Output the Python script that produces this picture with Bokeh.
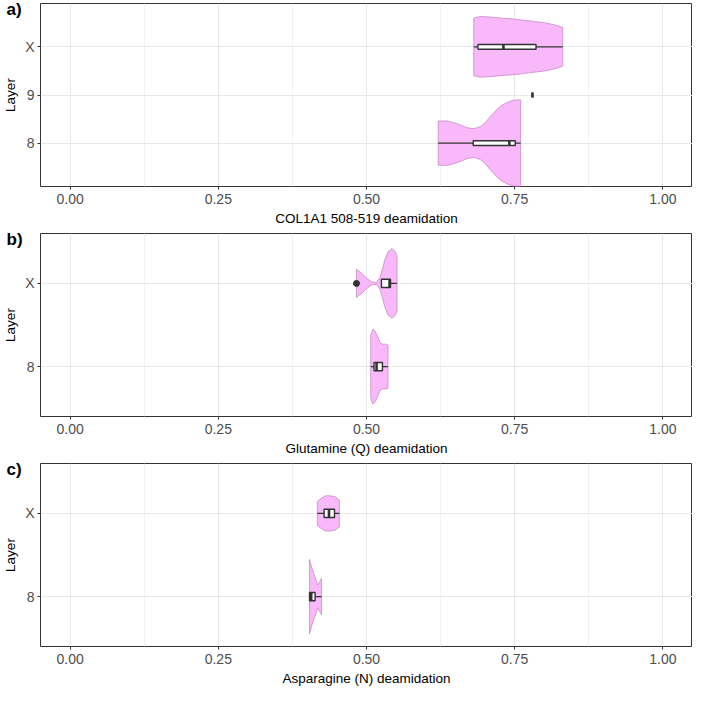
import numpy as np
from bokeh.plotting import figure
from bokeh.layouts import column
from bokeh.models import FixedTicker, NumeralTickFormatter, Range1d
from bokeh.embed import file_html
from bokeh.resources import INLINE

# ---------------- data ----------------
# Panel a: COL1A1 508-519 deamidation
a_layers = ["8", "9", "X"]
a_v8_vals = [0.621, 0.637, 0.654, 0.670, 0.681, 0.692, 0.700, 0.708, 0.717, 0.725, 0.736, 0.747, 0.760]
a_v8_half = [0.46, 0.46, 0.40, 0.32, 0.30, 0.34, 0.42, 0.54, 0.66, 0.76, 0.84, 0.89, 0.90]
a_vX_vals = [0.681, 0.692, 0.708, 0.725, 0.747, 0.774, 0.801, 0.823, 0.831]
a_vX_half = [0.60, 0.63, 0.62, 0.60, 0.58, 0.54, 0.50, 0.44, 0.40]
a_box_layer = ["8", "9", "X"]
a_box_lo = [0.621, 0.780, 0.681]
a_box_q1 = [0.680, 0.780, 0.688]
a_box_med = [0.741, 0.780, 0.731]
a_box_q3 = [0.751, 0.780, 0.786]
a_box_hi = [0.760, 0.780, 0.831]

# Panel b: Glutamine (Q) deamidation
b_layers = ["8", "X"]
b_v8_vals = [0.5072, 0.5105, 0.5142, 0.5182, 0.5225, 0.5269, 0.5324, 0.5362]
b_v8_half = [0.38, 0.45, 0.43, 0.37, 0.29, 0.27, 0.27, 0.26]
b_vX_vals = [0.4831, 0.4925, 0.5007, 0.5089, 0.5170, 0.5225, 0.5269, 0.5307, 0.5362, 0.5433, 0.5487, 0.5515]
b_vX_half = [0.169, 0.116, 0.058, 0.017, 0.012, 0.07, 0.17, 0.28, 0.38, 0.42, 0.38, 0.33]
b_box_layer = ["8", "X"]
b_box_lo = [0.5072, 0.5252]
b_box_q1 = [0.5127, 0.5252]
b_box_med = [0.5170, 0.5389]
b_box_q3 = [0.5269, 0.5405]
b_box_hi = [0.5362, 0.5515]
b_out_layer = ["X"]
b_out_val = [0.4831]

# Panel c: Asparagine (N) deamidation
c_layers = ["8", "X"]
c_v8_vals = [0.4039, 0.4077, 0.4133, 0.4176, 0.4214, 0.4241]
c_v8_half = [0.448, 0.345, 0.230, 0.138, 0.184, 0.218]
c_vX_vals = [0.4171, 0.4231, 0.4297, 0.4379, 0.4471, 0.4542]
c_vX_half = [0.144, 0.178, 0.210, 0.213, 0.201, 0.161]
c_box_layer = ["8", "X"]
c_box_lo = [0.4039, 0.4171]
c_box_q1 = [0.4039, 0.4285]
c_box_med = [0.4067, 0.4367]
c_box_q3 = [0.4133, 0.4460]
c_box_hi = [0.4241, 0.4542]

x_ticks = [0.0, 0.25, 0.5, 0.75, 1.0]
x_minor = [0.125, 0.375, 0.625, 0.875]

# ---------------- style ----------------
FONT = "Liberation Sans"
VIOLIN_FILL = "#F9B8F9"
VIOLIN_LINE = "#C88CC8"
DARK = "#333333"
GRID = "#E8E8E8"
GRID_MINOR = "#F1F1F1"
BOX_HALF = 0.05
X_LO, X_HI = -0.05, 1.05


def make_panel(tag, xtitle, layers, violins, boxes, outliers, ylo, yhi):
    pos = {l: i + 1 for i, l in enumerate(layers)}
    p = figure(width=692, height=230, output_backend="svg", toolbar_location=None,
               x_range=Range1d(X_LO, X_HI), y_range=Range1d(ylo, yhi),
               min_border_top=3, min_border_bottom=44, min_border_right=0, min_border_left=5)
    p.background_fill_color = "white"
    p.border_fill_color = "white"
    p.outline_line_color = DARK
    p.outline_line_width = 1
    p.outline_line_alpha = 1

    # panel tag as a title pulled down beside the frame's top-left corner
    p.title.text = tag
    p.title.align = "left"
    p.title.text_font = FONT
    p.title.text_font_style = "bold"
    p.title.text_font_size = "17px"
    p.title.text_color = "black"
    p.title.offset = -34
    p.title.standoff = -30

    # violins
    for name, vals, half in violins:
        c = pos[name]
        vals = np.asarray(vals)
        half = np.asarray(half)
        xs = np.concatenate([vals, vals[::-1]])
        ys = np.concatenate([c + half, (c - half)[::-1]])
        p.patch(xs, ys, fill_color=VIOLIN_FILL, line_color=VIOLIN_LINE, line_width=0.8)

    # boxes
    layer, lo, q1, med, q3, hi = boxes
    yc = np.array([pos[l] for l in layer], dtype=float)
    p.segment(x0=lo, y0=yc, x1=q1, y1=yc, line_color=DARK, line_width=1.3)
    p.segment(x0=q3, y0=yc, x1=hi, y1=yc, line_color=DARK, line_width=1.3)
    p.quad(left=q1, right=q3, bottom=yc - BOX_HALF, top=yc + BOX_HALF,
           fill_color="white", line_color=DARK, line_width=1.4)
    p.segment(x0=med, y0=yc - BOX_HALF, x1=med, y1=yc + BOX_HALF, line_color=DARK, line_width=2.6)

    if outliers is not None:
        ol, ov = outliers
        p.scatter(x=ov, y=[pos[l] for l in ol], size=6, color=DARK)

    # axes
    xt = FixedTicker(ticks=x_ticks, minor_ticks=x_minor)
    p.xaxis.ticker = xt
    p.xgrid.ticker = xt
    p.xaxis.formatter = NumeralTickFormatter(format="0.00")
    yt = FixedTicker(ticks=[pos[l] for l in layers])
    p.yaxis.ticker = yt
    p.ygrid.ticker = yt
    p.yaxis.major_label_overrides = {pos[l]: l for l in layers}
    p.xaxis.axis_label = xtitle
    p.yaxis.axis_label = "Layer"

    for ax in (p.xaxis, p.yaxis):
        ax.axis_line_color = None
        ax.major_tick_line_color = DARK
        ax.major_tick_out = 3
        ax.major_tick_in = 0
        ax.minor_tick_line_color = None
        ax.major_label_text_font = FONT
        ax.major_label_text_font_size = "14px"
        ax.major_label_text_color = "#4D4D4D"
        ax.axis_label_text_font = FONT
        ax.axis_label_text_font_size = "13.5px"
        ax.axis_label_text_font_style = "normal"
        ax.axis_label_text_color = "black"
        ax.major_label_standoff = 3
        ax.axis_label_standoff = 4

    p.xgrid.grid_line_color = GRID
    p.xgrid.minor_grid_line_color = GRID_MINOR
    p.ygrid.grid_line_color = GRID
    return p


pa = make_panel("a)", "COL1A1 508-519 deamidation", a_layers,
                [("8", a_v8_vals, a_v8_half), ("X", a_vX_vals, a_vX_half)],
                (a_box_layer, a_box_lo, a_box_q1, a_box_med, a_box_q3, a_box_hi),
                None, 0.1, 3.9)
pb = make_panel("b)", "Glutamine (Q) deamidation", b_layers,
                [("8", b_v8_vals, b_v8_half), ("X", b_vX_vals, b_vX_half)],
                (b_box_layer, b_box_lo, b_box_q1, b_box_med, b_box_q3, b_box_hi),
                (b_out_layer, b_out_val), 0.4, 2.6)
pc = make_panel("c)", "Asparagine (N) deamidation", c_layers,
                [("8", c_v8_vals, c_v8_half), ("X", c_vX_vals, c_vX_half)],
                (c_box_layer, c_box_lo, c_box_q1, c_box_med, c_box_q3, c_box_hi),
                None, 0.4, 2.6)

layout = column(pa, pb, pc, spacing=0)
open("out.html", "w").write(file_html(layout, INLINE))
